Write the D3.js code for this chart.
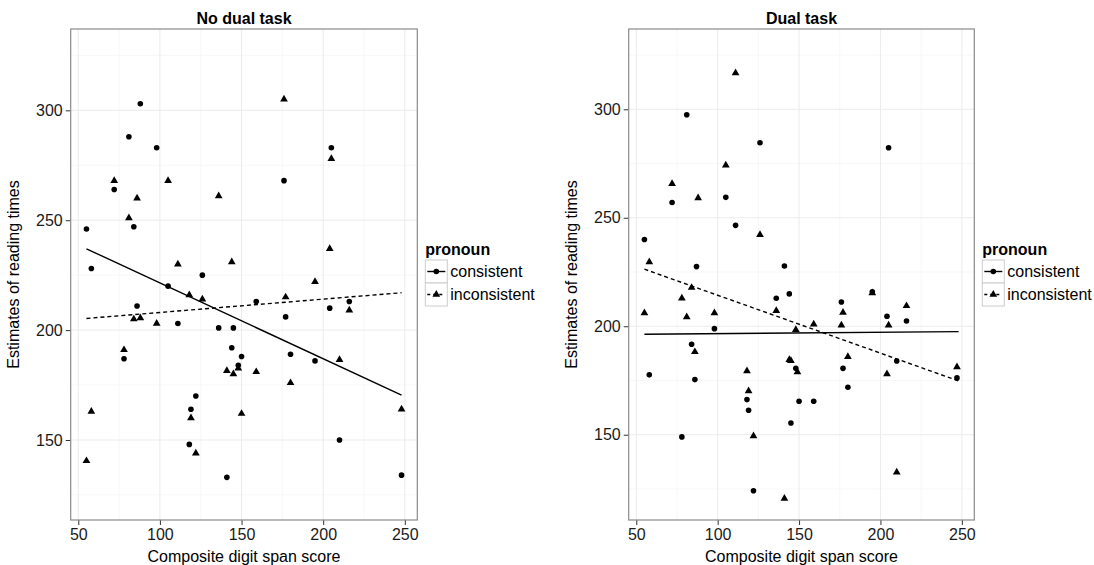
<html>
<head>
<script src="https://cdnjs.cloudflare.com/ajax/libs/d3/7.8.5/d3.min.js"></script>
</head>
<body style="margin:0;background:white"></body>
<script>
// digit span score / reading time pairs
var noDualConsistent = [
  [55,246],[58,228],[72,264],[81,288],[84,247],[88,303],[98,283],[176,268],[205,283],[126,225],
  [105,220],[86,211],[111,203],[136,201],[145,201],[144,192],[150,188],[148,184],[78,187],[122,170],
  [119,164],[118,148],[141,133],[159,213],[177,206],[180,189],[195,186],[204,210],[216,213],[210,150],[248,134]
];
var noDualInconsistent = [
  [72,268],[81,251],[86,260],[105,268],[136,261],[176,305],[205,278],[204,237],[111,230],[144,231],
  [195,222],[118,216],[126,214],[84,205],[88,205.5],[98,203],[78,191],[141,181.5],[145,180],[148,182.6],
  [159,181],[180,176],[210,186.5],[216,209],[177,215],[58,163],[55,140.5],[119,160],[122,144],[150,162],[248,164]
];
var dualConsistent = [
  [55,240],[72,257],[81,297.5],[87,227.5],[105,259.4],[111,246.5],[126,284.6],[141,227.8],[205,282.3],[136,212.9],
  [144,214.9],[176,211.2],[195,215.9],[204,204.6],[216,202.4],[98,198.9],[84,191.7],[58,177.6],[86,175.4],[177,180.6],
  [210,184],[180,171.9],[118,166.2],[119,161.3],[150,165.4],[159,165.4],[148,180.6],[145,155.4],[78,149],[122,124.2],[247,176.2]
];
var dualInconsistent = [
  [58,229.6],[72,265.7],[88,259.1],[105,274.2],[111,316.7],[126,242.2],[84,217.8],[55,206.1],[78,212.9],[81,204.3],
  [98,206.1],[86,188.2],[136,207.1],[148,198.4],[159,200.9],[177,206.3],[176,200.5],[195,215.3],[205,200.5],[216,209.4],
  [180,185.9],[204,178],[118,179.4],[119,170.2],[144,184.6],[145,184.1],[149,178.9],[122,149.4],[210,132.7],[141,120.6],[247,181.2]
];
// fitted lines, value at the two ends of the x range
var fitX = [55, 248];
var noDualFitConsistent = [237, 170.4];
var noDualFitInconsistent = [205.3, 217];
var dualFitConsistent = [196.3, 197.5];
var dualFitInconsistent = [226.3, 174.8];

var xTicks = [50, 100, 150, 200, 250];
var xMinor = [75, 125, 175, 225];
var yTicks = [150, 200, 250, 300];
var yMinor = [125, 175, 225, 275, 325];
var pronouns = ["consistent", "inconsistent"];

var font = "Liberation Sans, Arial, Helvetica, sans-serif";
var svg = d3.select("body").append("svg")
  .attr("width", 1094)
  .attr("height", 565)
  .style("background-color", "white");

function marker(g, kind, x, y) {
  if (kind === "consistent") {
    g.append("circle").attr("cx", x).attr("cy", y).attr("r", 2.8).attr("fill", "black");
  } else {
    g.append("path")
      .attr("d", d3.symbol().type(d3.symbolTriangle).size(26)())
      .attr("transform", "translate(" + x + "," + y + ")")
      .attr("fill", "black");
  }
}

function drawPanel(p) {
  var x = d3.scaleLinear().domain([45.35, 257.65]).range([p.left, p.right]);
  var y = d3.scaleLinear().domain(p.yDomain).range([520, 29]);
  var g = svg.append("g");

  // grid
  g.selectAll(".vminor").data(xMinor).enter().append("line")
    .attr("x1", x).attr("x2", x).attr("y1", 29).attr("y2", 520)
    .attr("stroke", "#f7f7f7").attr("stroke-width", 1);
  g.selectAll(".hminor").data(yMinor).enter().append("line")
    .attr("x1", p.left).attr("x2", p.right).attr("y1", y).attr("y2", y)
    .attr("stroke", "#f7f7f7").attr("stroke-width", 1);
  g.selectAll(".vmajor").data(xTicks).enter().append("line")
    .attr("x1", x).attr("x2", x).attr("y1", 29).attr("y2", 520)
    .attr("stroke", "#ebebeb").attr("stroke-width", 1);
  g.selectAll(".hmajor").data(yTicks).enter().append("line")
    .attr("x1", p.left).attr("x2", p.right).attr("y1", y).attr("y2", y)
    .attr("stroke", "#ebebeb").attr("stroke-width", 1);

  // axes
  var xAxis = g.append("g").attr("transform", "translate(0,520)")
    .call(d3.axisBottom(x).tickValues(xTicks).tickSize(5).tickPadding(4));
  var yAxis = g.append("g").attr("transform", "translate(" + p.left + ",0)")
    .call(d3.axisLeft(y).tickValues(yTicks).tickSize(5).tickPadding(3));
  [xAxis, yAxis].forEach(function(a) {
    a.select(".domain").remove();
    a.selectAll("line").attr("stroke", "#333").attr("stroke-width", 1);
    a.selectAll("text").attr("fill", "#1a1a1a").style("font-family", font).style("font-size", "16px");
  });

  g.append("rect")
    .attr("x", p.left).attr("y", 29)
    .attr("width", p.right - p.left).attr("height", 491)
    .attr("fill", "none").attr("stroke", "#8a8a8a").attr("stroke-width", 1.2);

  // fit lines
  var line = d3.line().x(function(d) { return x(d[0]); }).y(function(d) { return y(d[1]); });
  g.append("path").datum(fitX.map(function(v, i) { return [v, p.fitC[i]]; }))
    .attr("d", line).attr("fill", "none").attr("stroke", "black").attr("stroke-width", 1.4);
  g.append("path").datum(fitX.map(function(v, i) { return [v, p.fitI[i]]; }))
    .attr("d", line).attr("fill", "none").attr("stroke", "black").attr("stroke-width", 1.4)
    .attr("stroke-dasharray", "4,3");

  // points
  p.consistent.forEach(function(d) { marker(g, "consistent", x(d[0]), y(d[1])); });
  p.inconsistent.forEach(function(d) { marker(g, "inconsistent", x(d[0]), y(d[1])); });

  // titles
  g.append("text").attr("x", (p.left + p.right) / 2).attr("y", 24)
    .attr("text-anchor", "middle").style("font-family", font)
    .style("font-size", "16px").style("font-weight", "bold").text(p.title);
  g.append("text").attr("x", (p.left + p.right) / 2).attr("y", 562)
    .attr("text-anchor", "middle").style("font-family", font)
    .style("font-size", "16px").text("Composite digit span score");
  g.append("text")
    .attr("transform", "translate(" + (p.left - 52) + ",274.5) rotate(-90)")
    .attr("text-anchor", "middle").style("font-family", font)
    .style("font-size", "16px").text("Estimates of reading times");

  // legend
  var lg = g.append("g").attr("transform", "translate(" + (p.right + 8) + ",0)");
  lg.append("text").attr("x", 0).attr("y", 255).style("font-family", font)
    .style("font-size", "16px").style("font-weight", "bold").text("pronoun");
  pronouns.forEach(function(k, i) {
    var ky = 260 + i * 23;
    lg.append("rect").attr("x", 0).attr("y", ky).attr("width", 22).attr("height", 23)
      .attr("fill", "white").attr("stroke", "#cccccc").attr("stroke-width", 1);
    lg.append("line").attr("x1", 2).attr("x2", 20).attr("y1", ky + 11.5).attr("y2", ky + 11.5)
      .attr("stroke", "black").attr("stroke-width", 1.4)
      .attr("stroke-dasharray", k === "inconsistent" ? "3,3" : null);
    marker(lg, k, 11, ky + 11.5);
    lg.append("text").attr("x", 25).attr("y", ky + 17).style("font-family", font)
      .style("font-size", "16px").text(k);
  });
}

drawPanel({
  title: "No dual task", left: 70.7, right: 417.3, yDomain: [113.6, 337],
  consistent: noDualConsistent, inconsistent: noDualInconsistent,
  fitC: noDualFitConsistent, fitI: noDualFitInconsistent
});
drawPanel({
  title: "Dual task", left: 628.7, right: 974.3, yDomain: [110.7, 337],
  consistent: dualConsistent, inconsistent: dualInconsistent,
  fitC: dualFitConsistent, fitI: dualFitInconsistent
});
</script>
</html>
